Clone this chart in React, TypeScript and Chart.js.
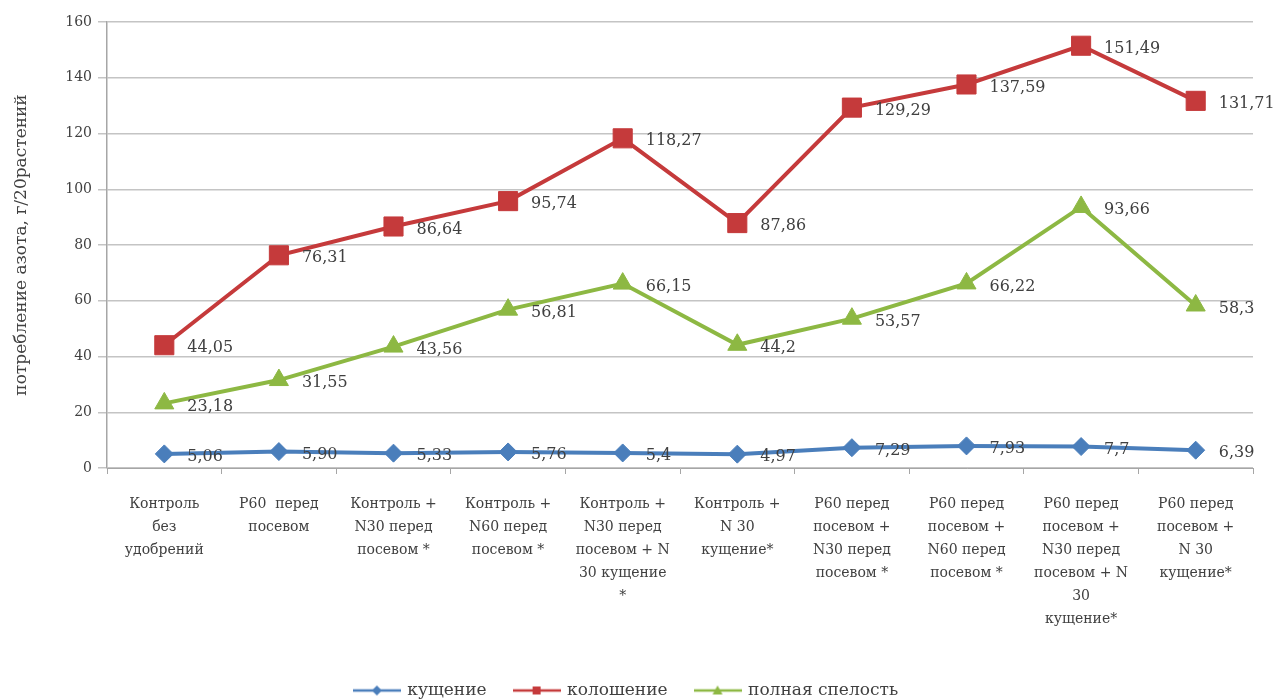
import React, { useEffect, useRef } from 'react';
import { Chart, registerables } from 'chart.js';

Chart.register(...registerables);

// Treatment variants (x axis), split into lines as printed under the axis
const categories: string[][] = [
  ['Контроль', 'без', 'удобрений'],
  ['Р60  перед', 'посевом'],
  ['Контроль +', 'N30 перед', 'посевом *'],
  ['Контроль +', 'N60 перед', 'посевом *'],
  ['Контроль +', 'N30 перед', 'посевом + N', '30 кущение', '*'],
  ['Контроль +', 'N 30', 'кущение*'],
  ['Р60 перед', 'посевом +', 'N30 перед', 'посевом *'],
  ['Р60 перед', 'посевом +', 'N60 перед', 'посевом *'],
  ['Р60 перед', 'посевом +', 'N30 перед', 'посевом + N', '30', 'кущение*'],
  ['Р60 перед', 'посевом +', 'N 30', 'кущение*'],
];

// Nitrogen uptake, g per 20 plants, as printed next to each point
const tilleringValues = ['5,06', '5,90', '5,33', '5,76', '5,4', '4,97', '7,29', '7,93', '7,7', '6,39'];
const headingValues = ['44,05', '76,31', '86,64', '95,74', '118,27', '87,86', '129,29', '137,59', '151,49', '131,71'];
const ripenessValues = ['23,18', '31,55', '43,56', '56,81', '66,15', '44,2', '53,57', '66,22', '93,66', '58,3'];

const seriesNames = ['кущение', 'колошение', 'полная спелость'];
const yTitle = 'потребление азота, г/20растений';
const yMin = 0;
const yMax = 160;
const yStep = 20;

const toNumber = (s: string) => parseFloat(s.replace(',', '.'));

const FONT = '"DejaVu Serif", "Liberation Serif", serif';
const TEXT = '#404040';
const BLUE = '#4a7ebb';
const RED = '#c53a3b';
const GREEN = '#8db843';

const W = 1277;
const H = 699;
const PLOT_BOTTOM = 468;
const PAD_BOTTOM = -10;

function legendIcon(color: string, style: string): HTMLCanvasElement {
  const c = document.createElement('canvas');
  c.width = 48;
  c.height = 14;
  const ctx = c.getContext('2d')!;
  ctx.strokeStyle = color;
  ctx.fillStyle = color;
  ctx.lineWidth = 2.5;
  ctx.beginPath();
  ctx.moveTo(0, 7);
  ctx.lineTo(48, 7);
  ctx.stroke();
  ctx.beginPath();
  if (style === 'rect') {
    ctx.rect(20, 3, 8, 8);
  } else if (style === 'triangle') {
    ctx.moveTo(24, 2);
    ctx.lineTo(29, 11);
    ctx.lineTo(19, 11);
    ctx.closePath();
  } else {
    ctx.moveTo(24, 2);
    ctx.lineTo(29, 7);
    ctx.lineTo(24, 12);
    ctx.lineTo(19, 7);
    ctx.closePath();
  }
  ctx.fill();
  return c;
}

const valueLabels = {
  id: 'valueLabels',
  afterDatasetsDraw(chart: any) {
    const ctx = chart.ctx;
    ctx.save();
    ctx.font = `16px ${FONT}`;
    ctx.fillStyle = TEXT;
    ctx.textAlign = 'left';
    ctx.textBaseline = 'middle';
    chart.data.datasets.forEach((ds: any, i: number) => {
      const meta = chart.getDatasetMeta(i);
      meta.data.forEach((pt: any, j: number) => {
        ctx.fillText(ds.printed[j], pt.x + 23, pt.y + 3);
      });
    });
    ctx.restore();
  },
};

export default function App() {
  const ref = useRef<HTMLCanvasElement>(null);

  useEffect(() => {
    if (!ref.current) return;
    const icons = [legendIcon(BLUE, 'rectRot'), legendIcon(RED, 'rect'), legendIcon(GREEN, 'triangle')];

    const chart = new Chart(ref.current, {
      type: 'line',
      data: {
        labels: categories,
        datasets: [
          {
            label: seriesNames[0],
            data: tilleringValues.map(toNumber),
            printed: tilleringValues,
            borderColor: BLUE,
            backgroundColor: BLUE,
            borderWidth: 4,
            pointStyle: 'rectRot',
            pointRadius: 9,
            pointBorderWidth: 1,
          },
          {
            label: seriesNames[1],
            data: headingValues.map(toNumber),
            printed: headingValues,
            borderColor: RED,
            backgroundColor: RED,
            borderWidth: 4,
            pointStyle: 'rect',
            pointRadius: 13.5,
            pointBorderWidth: 1,
          },
          {
            label: seriesNames[2],
            data: ripenessValues.map(toNumber),
            printed: ripenessValues,
            borderColor: GREEN,
            backgroundColor: GREEN,
            borderWidth: 4,
            pointStyle: 'triangle',
            pointRadius: 11,
            pointBorderWidth: 1,
          },
        ] as any,
      },
      options: {
        animation: false,
        responsive: false,
        layout: { padding: { left: 0, right: W - 1253, top: 22, bottom: PAD_BOTTOM } },
        plugins: {
          tooltip: { enabled: false },
          legend: {
            position: 'bottom',
            labels: {
              usePointStyle: true,
              pointStyleWidth: 44,
              padding: 28,
              color: TEXT,
              font: { family: FONT, size: 17 },
              generateLabels: (c: any) => {
                const items = Chart.defaults.plugins.legend.labels.generateLabels(c);
                items.forEach((it: any, k: number) => {
                  it.pointStyle = icons[k];
                });
                return items;
              },
            },
          },
        },
        scales: {
          x: {
            offset: true,
            grid: {
              offset: true,
              drawOnChartArea: false,
              drawTicks: true,
              tickLength: 6,
              color: '#a6a6a6',
            },
            border: { color: '#a6a6a6', width: 1 },
            ticks: {
              autoSkip: false,
              maxRotation: 0,
              minRotation: 0,
              padding: 19,
              color: TEXT,
              font: { family: FONT, size: 14, lineHeight: 1.64 },
            },
            afterFit: (scale: any) => {
              const lg = scale.chart.legend;
              const legendH = lg ? lg.height : 0;
              scale.height = H - PLOT_BOTTOM - legendH - PAD_BOTTOM;
            },
          },
          y: {
            min: yMin,
            max: yMax,
            ticks: {
              stepSize: yStep,
              padding: 6,
              color: TEXT,
              font: { family: FONT, size: 14 },
            },
            grid: { color: '#c4c4c4', lineWidth: 1.5, tickLength: 9 },
            border: { color: '#a6a6a6', width: 1.5 },
            title: {
              display: true,
              text: yTitle,
              color: TEXT,
              padding: { top: 11, bottom: 0 },
              font: { family: FONT, size: 17 },
            },
            afterFit: (scale: any) => {
              scale.width = 107;
            },
          },
        },
      },
      plugins: [valueLabels],
    });

    return () => chart.destroy();
  }, []);

  return (
    <div style={{ position: 'fixed', left: 0, top: 0, width: W, height: H, background: '#fff' }}>
      <canvas ref={ref} width={W} height={H} style={{ width: W, height: H, display: 'block' }} />
    </div>
  );
}
